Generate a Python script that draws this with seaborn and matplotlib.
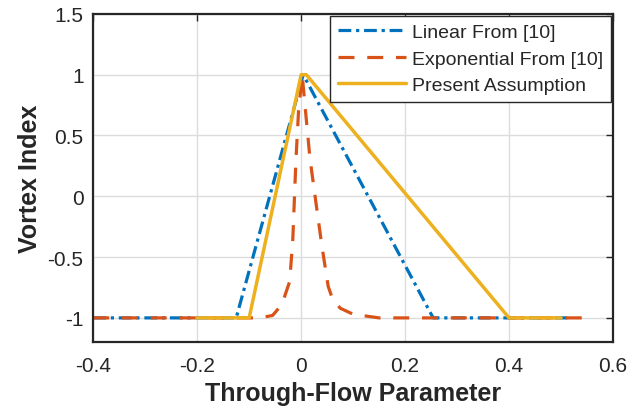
import numpy as np
import pandas as pd
import matplotlib.pyplot as plt
import seaborn as sns

# data
linear_x = [-0.4, -0.125, 0.004, 0.254, 0.52]
linear_y = [-1.0, -1.0, 1.0, -1.0, -1.0]

expo_x = [-0.4, -0.08, -0.055, -0.037, -0.022, -0.016, -0.01, -0.005, 0.002,
          0.008, 0.017, 0.03, 0.04, 0.052, 0.06, 0.075, 0.1, 0.15, 0.55]
expo_y = [-1.0, -1.0, -0.98, -0.89, -0.7, -0.35, 0.3, 0.7, 1.0,
          0.72, 0.31, -0.1, -0.41, -0.74, -0.84, -0.92, -0.97, -1.0, -1.0]

present_x = [-0.2, -0.1, 0.0, 0.01, 0.4, 0.5]
present_y = [-1.0, -1.0, 1.0, 1.0, -1.0, -1.0]

labels = ["Linear From [10]", "Exponential From [10]", "Present Assumption"]
colors = ["#0072BD", "#D95319", "#EDB120"]

sns.set_style("whitegrid")
plt.rcParams["font.family"] = ["Liberation Sans", "DejaVu Sans"]

fig, ax = plt.subplots(figsize=(6.3, 4.14), dpi=100)
fig.subplots_adjust(left=0.148, right=0.973, top=0.964, bottom=0.171)

series = [(linear_x, linear_y), (expo_x, expo_y), (present_x, present_y)]
styles = [(0, (4, 1.5, 1, 1.5)), (0, (5, 4)), "-"]
widths = [2.3, 2.3, 2.5]

for (xs, ys), lab, col, ls, lw in zip(series, labels, colors, styles, widths):
    df = pd.DataFrame({"x": xs, "y": ys})
    sns.lineplot(data=df, x="x", y="y", sort=False, color=col, linewidth=lw,
                 linestyle=ls, label=lab, ax=ax)

ax.set_xlim(-0.4, 0.6)
ax.set_ylim(-1.2, 1.5)
ax.set_xticks([-0.4, -0.2, 0, 0.2, 0.4, 0.6])
ax.set_xticklabels(["-0.4", "-0.2", "0", "0.2", "0.4", "0.6"])
ax.set_yticks([-1, -0.5, 0, 0.5, 1, 1.5])
ax.set_yticklabels(["-1", "-0.5", "0", "0.5", "1", "1.5"])

ax.grid(True, color="#dcdcdc", linewidth=1.0)
for sp in ax.spines.values():
    sp.set_color("#262626")
    sp.set_linewidth(1.6)
ax.tick_params(direction="in", length=5, width=1.0, color="#262626",
               labelsize=15, labelcolor="#262626", top=True, right=True)
ax.tick_params(axis="x", pad=10)
ax.tick_params(axis="y", pad=7)

ax.set_xlabel("Through-Flow Parameter", fontsize=18, fontweight="bold",
              color="#262626", labelpad=4)
ax.set_ylabel("Vortex Index", fontsize=18, fontweight="bold",
              color="#262626", labelpad=4)

leg = ax.legend(loc="upper right", fontsize=14, handlelength=3.5,
                frameon=True, fancybox=False, borderaxespad=0.1,
                borderpad=0.4, labelspacing=0.45, handletextpad=0.3)
leg.get_frame().set_edgecolor("#262626")
leg.get_frame().set_linewidth(1.0)
leg.get_frame().set_alpha(1)

fig.savefig("out.png", dpi=100)
